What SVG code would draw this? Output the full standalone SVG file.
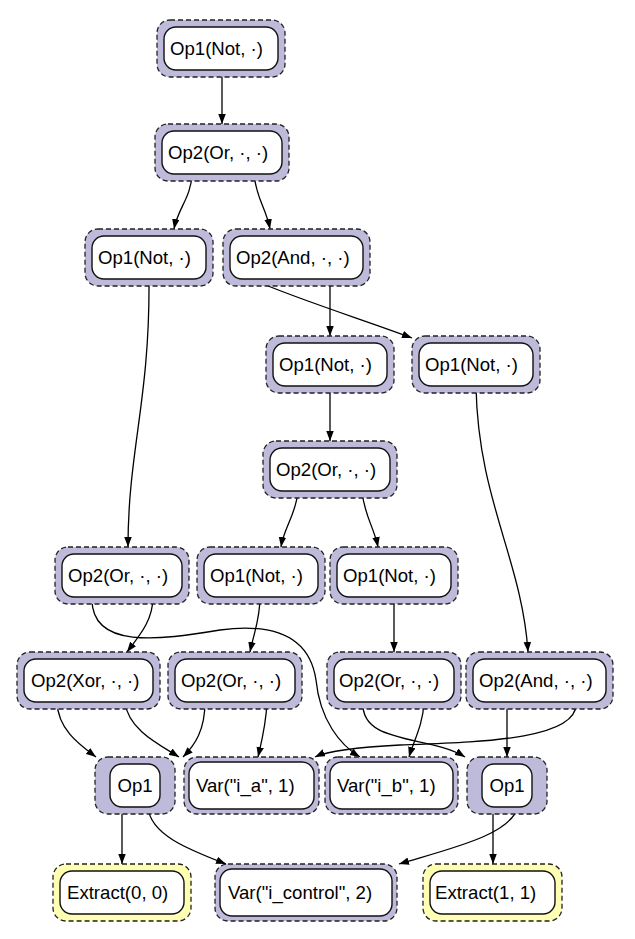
<svg xmlns="http://www.w3.org/2000/svg" width="635" height="939" viewBox="0 0 635 939">
<style>
.o{fill:#bebada;stroke:#222;stroke-width:1.3;stroke-dasharray:5,3}
.y{fill:#ffffb3;stroke:#222;stroke-width:1.3;stroke-dasharray:5,3}
.i{fill:#fff;stroke:#111;stroke-width:1.4}
text{font-family:"Liberation Sans",Arial,Helvetica,sans-serif;font-size:18.6px;fill:#000}
.c{text-anchor:middle}
.e{fill:none;stroke:#000;stroke-width:1.3;marker-end:url(#ah)}
</style>
<defs>
<marker id="ah" markerUnits="userSpaceOnUse" markerWidth="11" markerHeight="8" refX="10" refY="3.75" orient="auto">
<path d="M0,0 L10,3.75 L0,7.5 z" fill="#000"/>
</marker>
</defs>
<g id="edges">
<path class="e" d="M222,70 L222,124"/>
<path class="e" d="M192,174 C191,198 178,208 174,229"/>
<path class="e" d="M254,174 C256,198 266,208 270,229"/>
<path class="e" d="M149,279 C150,400 128,450 128,547"/>
<path class="e" d="M330,279 L330,336"/>
<path class="e" d="M256,281 C300,300 370,322 412,338"/>
<path class="e" d="M330,386 L330,441"/>
<path class="e" d="M476,386 C478,500 522,560 528,652"/>
<path class="e" d="M298,491 C296,515 284,527 281,547"/>
<path class="e" d="M362,491 C364,515 374,527 378,547"/>
<path class="e" d="M153,597 C153,620 140,635 127,652"/>
<path class="e" d="M92,597 C90,650 160,640 220,630 C280,622 310,640 316,680 C320,720 340,745 360,757"/>
<path class="e" d="M260,597 C260,620 254,632 250,652"/>
<path class="e" d="M394,597 L394,652"/>
<path class="e" d="M57,702 C58,730 80,745 96,757"/>
<path class="e" d="M125,702 C128,730 160,745 179,757"/>
<path class="e" d="M205,702 C205,730 195,745 183,757"/>
<path class="e" d="M267,702 C266,725 262,740 258,757"/>
<path class="e" d="M363,702 C360,745 430,735 465,757"/>
<path class="e" d="M424,702 C423,725 414,740 409,757"/>
<path class="e" d="M507,702 L507,757"/>
<path class="e" d="M576,702 C580,740 480,742 400,745 C360,747 330,750 315,757"/>
<path class="e" d="M122,807 L122,864"/>
<path class="e" d="M148,807 C150,835 190,850 226,864"/>
<path class="e" d="M493,807 L493,864"/>
<path class="e" d="M518,807 C510,835 452,848 399,864"/>
</g>
<g id="nA"><rect class="o" x="157" y="20" width="128" height="57" rx="13"/><rect class="i" x="164" y="27" width="114" height="43" rx="12"/><text x="170" y="55">Op1(Not, ·)</text></g>
<g id="nB"><rect class="o" x="155" y="124" width="134" height="57" rx="13"/><rect class="i" x="162" y="131" width="120" height="43" rx="12"/><text x="168" y="159">Op2(Or, ·, ·)</text></g>
<g id="nC"><rect class="o" x="85" y="229" width="128" height="57" rx="13"/><rect class="i" x="92" y="236" width="114" height="43" rx="12"/><text x="98" y="264">Op1(Not, ·)</text></g>
<g id="nD"><rect class="o" x="223" y="229" width="147" height="57" rx="13"/><rect class="i" x="230" y="236" width="133" height="43" rx="12"/><text x="236" y="264">Op2(And, ·, ·)</text></g>
<g id="nE"><rect class="o" x="266" y="336" width="128" height="57" rx="13"/><rect class="i" x="273" y="343" width="114" height="43" rx="12"/><text x="279" y="371">Op1(Not, ·)</text></g>
<g id="nF"><rect class="o" x="412" y="336" width="128" height="57" rx="13"/><rect class="i" x="419" y="343" width="114" height="43" rx="12"/><text x="425" y="371">Op1(Not, ·)</text></g>
<g id="nG"><rect class="o" x="263" y="441" width="134" height="57" rx="13"/><rect class="i" x="270" y="448" width="120" height="43" rx="12"/><text x="276" y="476">Op2(Or, ·, ·)</text></g>
<g id="nH"><rect class="o" x="55" y="547" width="134" height="57" rx="13"/><rect class="i" x="62" y="554" width="120" height="43" rx="12"/><text x="68" y="582">Op2(Or, ·, ·)</text></g>
<g id="nI"><rect class="o" x="197" y="547" width="128" height="57" rx="13"/><rect class="i" x="204" y="554" width="114" height="43" rx="12"/><text x="210" y="582">Op1(Not, ·)</text></g>
<g id="nJ"><rect class="o" x="330" y="547" width="128" height="57" rx="13"/><rect class="i" x="337" y="554" width="114" height="43" rx="12"/><text x="343" y="582">Op1(Not, ·)</text></g>
<g id="nK"><rect class="o" x="17" y="652" width="143" height="57" rx="13"/><rect class="i" x="24" y="659" width="129" height="43" rx="12"/><text x="31" y="687">Op2(Xor, ·, ·)</text></g>
<g id="nL"><rect class="o" x="168" y="652" width="134" height="57" rx="13"/><rect class="i" x="175" y="659" width="120" height="43" rx="12"/><text x="181" y="687">Op2(Or, ·, ·)</text></g>
<g id="nM"><rect class="o" x="327" y="652" width="134" height="57" rx="13"/><rect class="i" x="334" y="659" width="120" height="43" rx="12"/><text x="339" y="687">Op2(Or, ·, ·)</text></g>
<g id="nN"><rect class="o" x="466" y="652" width="147" height="57" rx="13"/><rect class="i" x="473" y="659" width="133" height="43" rx="12"/><text x="479" y="687">Op2(And, ·, ·)</text></g>
<g id="nO"><rect class="o" x="95" y="757" width="80" height="57" rx="13"/><rect class="i" x="110" y="764" width="50" height="43" rx="12"/><text class="c" x="135" y="792">Op1</text></g>
<g id="nP"><rect class="o" x="184" y="757" width="135" height="57" rx="13"/><rect class="i" x="189" y="762" width="125" height="47" rx="12"/><text x="196" y="792">Var("i_a", 1)</text></g>
<g id="nQ"><rect class="o" x="325" y="757" width="133" height="57" rx="13"/><rect class="i" x="330" y="762" width="123" height="47" rx="12"/><text x="337" y="792">Var("i_b", 1)</text></g>
<g id="nR"><rect class="o" x="467" y="757" width="80" height="57" rx="13"/><rect class="i" x="482" y="764" width="50" height="43" rx="12"/><text class="c" x="507" y="792">Op1</text></g>
<g id="nS"><rect class="y" x="53" y="864" width="138" height="57" rx="13"/><rect class="i" x="60" y="871" width="124" height="43" rx="12"/><text x="67" y="899">Extract(0, 0)</text></g>
<g id="nT"><rect class="o" x="215" y="864" width="182" height="57" rx="13"/><rect class="i" x="220" y="869" width="172" height="47" rx="12"/><text x="228" y="899">Var("i_control", 2)</text></g>
<g id="nU"><rect class="y" x="423" y="864" width="139" height="57" rx="13"/><rect class="i" x="430" y="871" width="125" height="43" rx="12"/><text x="435" y="899">Extract(1, 1)</text></g>
</svg>
